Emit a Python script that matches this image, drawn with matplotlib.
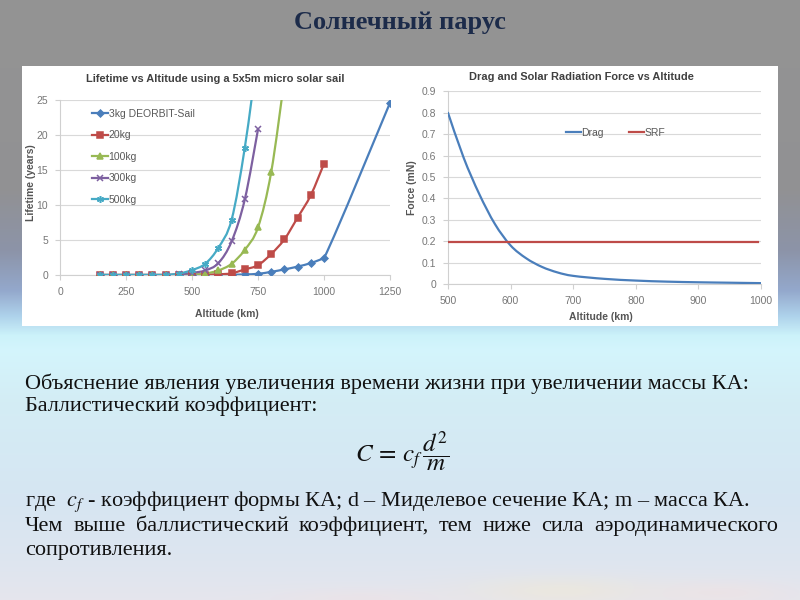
import numpy as np
import matplotlib
matplotlib.use("Agg")
import matplotlib.pyplot as plt
from matplotlib.path import Path
from matplotlib.patches import PathPatch, Rectangle
from matplotlib.lines import Line2D

plt.rcParams['mathtext.fontset'] = 'stix'
CHART_FONT = ['Liberation Sans Narrow', 'Liberation Sans', 'DejaVu Sans']
SLIDE_FONT = ['Liberation Serif', 'DejaVu Serif']

# lifetime vs altitude (left chart)
alt_3kg = [150, 200, 250, 300, 350, 400, 450, 500, 550, 600, 650, 700, 750, 800, 850, 900, 950, 1000, 1250]
life_3kg = [0.0, 0.0, 0.0, 0.0, 0.0, 0.0, 0.0, 0.01, 0.01, 0.02, 0.04, 0.08, 0.17, 0.45, 0.8, 1.2, 1.7, 2.4, 24.6]
alt_20kg = [150, 200, 250, 300, 350, 400, 450, 500, 550, 600, 650, 700, 750, 800, 850, 900, 950, 1000]
life_20kg = [0.0, 0.0, 0.0, 0.0, 0.0, 0.0, 0.0, 0.02, 0.05, 0.1, 0.24, 0.8, 1.4, 3.0, 5.1, 8.2, 11.4, 15.9]
alt_100kg = [150, 200, 250, 300, 350, 400, 450, 500, 550, 600, 650, 700, 750, 800, 850]
life_100kg = [0.0, 0.0, 0.0, 0.0, 0.0, 0.0, 0.02, 0.05, 0.2, 0.65, 1.6, 3.6, 6.8, 14.7, 28.0]
alt_300kg = [150, 200, 250, 300, 350, 400, 450, 500, 550, 600, 650, 700, 750]
life_300kg = [0.0, 0.0, 0.0, 0.0, 0.0, 0.0, 0.1, 0.3, 0.65, 1.7, 4.8, 10.8, 20.8]
alt_500kg = [150, 200, 250, 300, 350, 400, 450, 500, 550, 600, 650, 700, 750]
life_500kg = [0.0, 0.0, 0.0, 0.0, 0.0, 0.0, 0.2, 0.7, 1.6, 3.9, 7.9, 18.2, 32.0]

# drag and solar radiation force (right chart)
alt_drag = [500, 525, 550, 575, 600, 625, 650, 675, 700, 750, 800, 850, 900, 950, 1000]
force_drag = [0.80, 0.59, 0.42, 0.28, 0.18, 0.12, 0.08, 0.054, 0.038, 0.024, 0.016, 0.011, 0.008, 0.006, 0.004]
alt_srf = [500, 995]
force_srf = [0.195, 0.195]

left_xticks = [0, 250, 500, 750, 1000, 1250]
left_yticks = [0, 5, 10, 15, 20, 25]
right_xticks = [500, 600, 700, 800, 900, 1000]
right_yticks = [0, 0.1, 0.2, 0.3, 0.4, 0.5, 0.6, 0.7, 0.8, 0.9]

series = [
    ("3kg DEORBIT-Sail", alt_3kg, life_3kg, "#4A7EBB", "D", 3.5),
    ("20kg", alt_20kg, life_20kg, "#BE4B48", "s", 4.8),
    ("100kg", alt_100kg, life_100kg, "#98B954", "^", 4.5),
    ("300kg", alt_300kg, life_300kg, "#7D60A0", "x", 4),
    ("500kg", alt_500kg, life_500kg, "#46AAC5", (6, 2, 0), 5),
]


def smooth_path(xs, ys):
    # excel-like smoothed line: catmull-rom segments as cubic beziers,
    # control points kept inside the segment's y range (no overshoot)
    p = np.column_stack([xs, ys]).astype(float)
    verts = [p[0]]
    codes = [Path.MOVETO]
    for i in range(len(p) - 1):
        p0 = p[max(i - 1, 0)]
        p1, p2 = p[i], p[i + 1]
        p3 = p[min(i + 2, len(p) - 1)]
        c1 = p1 + (p2 - p0) / 6
        c2 = p2 - (p3 - p1) / 6
        lo, hi = min(p1[1], p2[1]), max(p1[1], p2[1])
        c1[1] = np.clip(c1[1], lo, hi)
        c2[1] = np.clip(c2[1], lo, hi)
        verts += [c1, c2, p2]
        codes += [Path.CURVE4] * 3
    return Path(verts, codes)


def style_axes(ax):
    ax.set_facecolor("white")
    for side in ("top", "right"):
        ax.spines[side].set_visible(False)
    for side in ("left", "bottom"):
        ax.spines[side].set_color("#D0D0D0")
        ax.spines[side].set_linewidth(0.8)
    ax.grid(axis="y", color="#D9D9D9", lw=0.8)
    ax.set_axisbelow(True)
    ax.tick_params(colors="#D0D0D0", labelcolor="#777777", length=3.5, width=0.8,
                   labelsize=7.5, pad=5)
    for lbl in ax.get_xticklabels() + ax.get_yticklabels():
        lbl.set_family(CHART_FONT)


fig = plt.figure(figsize=(8, 6), dpi=100)

# slide background
bg = fig.add_axes([0, 0, 1, 1], zorder=0)
stops_y = [0, 190, 250, 290, 315, 335, 350, 400, 500, 560, 600]
stops_c = np.array([
    [0.58, 0.58, 0.58], [0.57, 0.57, 0.58], [0.55, 0.58, 0.66], [0.58, 0.66, 0.80],
    [0.68, 0.82, 0.92], [0.80, 0.95, 0.98], [0.83, 0.96, 0.99], [0.83, 0.93, 0.96],
    [0.84, 0.90, 0.95], [0.87, 0.90, 0.94], [0.90, 0.90, 0.93]])
rows = np.arange(600)
col = np.stack([np.interp(rows, stops_y, stops_c[:, k]) for k in range(3)], axis=1)
img = np.repeat(col[:, None, :], 800, axis=1)
yy, xx = np.mgrid[0:600, 0:800]
for cx, cy, sx, sy, tint in [(560, 590, 90, 14, [0.97, 0.92, 0.78]),
                             (720, 592, 70, 12, [0.97, 0.88, 0.86]),
                             (360, 598, 80, 10, [0.95, 0.88, 0.88])]:
    w = 0.35 * np.exp(-((xx - cx) / sx) ** 2 - ((yy - cy) / sy) ** 2)
    img = img * (1 - w[..., None]) + np.array(tint) * w[..., None]
bg.imshow(img, extent=[0, 800, 600, 0], aspect="auto", interpolation="bilinear")
bg.add_patch(Rectangle((22, 66), 756, 260, facecolor="white", edgecolor="none"))
bg.set_xlim(0, 800)
bg.set_ylim(600, 0)
bg.axis("off")

bg.text(400, 22, "Солнечный парус", ha="center", va="center", fontsize=19,
        fontweight="bold", color="#1C2B4A", family=SLIDE_FONT)

# left chart
ax1 = fig.add_axes([60 / 800, 1 - 275 / 600, 330 / 800, 175 / 600], zorder=2)
handles = []
for name, xs, ys, color, marker, ms in series:
    ax1.add_patch(PathPatch(smooth_path(xs, ys), fill=False, edgecolor=color, lw=1.6,
                            capstyle="round", joinstyle="round", zorder=3))
    ax1.plot(xs, ys, ls="none", marker=marker, ms=ms, color=color, mec=color,
             mew=1.1, zorder=4, clip_on=True)
    handles.append(Line2D([], [], color=color, lw=1.6, marker=marker, ms=ms, mew=1.1, label=name))
ax1.set_xlim(0, 1250)
ax1.set_ylim(0, 25)
ax1.set_xticks(left_xticks)
ax1.set_yticks(left_yticks)
style_axes(ax1)
ax1.set_title("Lifetime vs Altitude using a 5x5m micro solar sail", fontsize=7.9,
              fontweight="bold", color="#404040", family=CHART_FONT, x=0.471, y=1.103, pad=0)
ax1.set_xlabel("Altitude (km)", fontsize=7.5, fontweight="bold", color="#555555", family=CHART_FONT)
ax1.set_ylabel("Lifetime (years)", fontsize=7.5, fontweight="bold", color="#555555", family=CHART_FONT)
ax1.xaxis.set_label_coords(0.505, -0.194)
ax1.yaxis.set_label_coords(-0.074, 0.526)
leg1 = ax1.legend(handles=handles, loc="upper left", bbox_to_anchor=(92 / 800, 1 - 109 / 600),
                  bbox_transform=fig.transFigure, frameon=False, handlelength=1.5,
                  handletextpad=0.1, labelspacing=1.1, borderpad=0, borderaxespad=0,
                  prop={"family": CHART_FONT, "size": 7.5})
for t in leg1.get_texts():
    t.set_color("#595959")

# right chart
ax2 = fig.add_axes([448 / 800, 1 - 284 / 600, 313 / 800, 192.6 / 600], zorder=2)
ax2.add_patch(PathPatch(smooth_path(alt_drag, force_drag), fill=False, edgecolor="#4A7EBB",
                        lw=1.6, capstyle="round", zorder=3))
ax2.plot(alt_srf, force_srf, color="#BE4B48", lw=1.6, zorder=3)
ax2.set_xlim(500, 1000)
ax2.set_ylim(0, 0.9)
ax2.set_xticks(right_xticks)
ax2.set_yticks(right_yticks)
ax2.set_yticklabels(["0"] + [f"{v:.1f}" for v in right_yticks[1:]])
style_axes(ax2)
ax2.set_title("Drag and Solar Radiation Force vs Altitude", fontsize=7.9,
              fontweight="bold", color="#404040", family=CHART_FONT, x=0.4265, y=1.059, pad=0)
ax2.set_xlabel("Altitude (km)", fontsize=7.5, fontweight="bold", color="#555555", family=CHART_FONT)
ax2.set_ylabel("Force (mN)", fontsize=7.5, fontweight="bold", color="#555555", family=CHART_FONT)
ax2.xaxis.set_label_coords(0.489, -0.145)
ax2.yaxis.set_label_coords(-0.1, 0.498)
h2 = [Line2D([], [], color="#4A7EBB", lw=1.6, label="Drag"),
      Line2D([], [], color="#BE4B48", lw=1.6, label="SRF")]
leg2 = ax2.legend(handles=h2, loc="center left", bbox_to_anchor=(566 / 800, 1 - 133 / 600),
                  bbox_transform=fig.transFigure, frameon=False, ncol=2, handlelength=1.4,
                  handletextpad=0.1, columnspacing=2.4, borderpad=0, borderaxespad=0,
                  prop={"family": CHART_FONT, "size": 7.5})
for t in leg2.get_texts():
    t.set_color("#595959")

# slide text
txt = dict(fontsize=16, color="#111111", family=SLIDE_FONT, va="baseline")
bg.text(25, 389, "Объяснение явления увеличения времени жизни при увеличении массы КА:", **txt)
bg.text(25, 411, "Баллистический коэффициент:", **txt)
bg.text(402, 451, r"$C\,=\,c_f\,\dfrac{d^2}{m}$", ha="center", va="center", fontsize=18, color="#111111")
bg.text(25, 506, "где  $c_f$ - коэффициент формы КА; d – Миделевое сечение КА; m – масса КА.", **txt)
bg.text(25, 555, "сопротивления.", **txt)

words = "Чем выше баллистический коэффициент, тем ниже сила аэродинамического".split()
renderer = fig.canvas.get_renderer()
wtexts = [bg.text(25, 531, w, **txt) for w in words]
widths = [t.get_window_extent(renderer).width for t in wtexts]
gap = (778 - 25 - sum(widths)) / (len(words) - 1)
x = 25
for t, w in zip(wtexts, widths):
    t.set_x(x)
    x += w + gap

fig.savefig("out.png", dpi=100)
